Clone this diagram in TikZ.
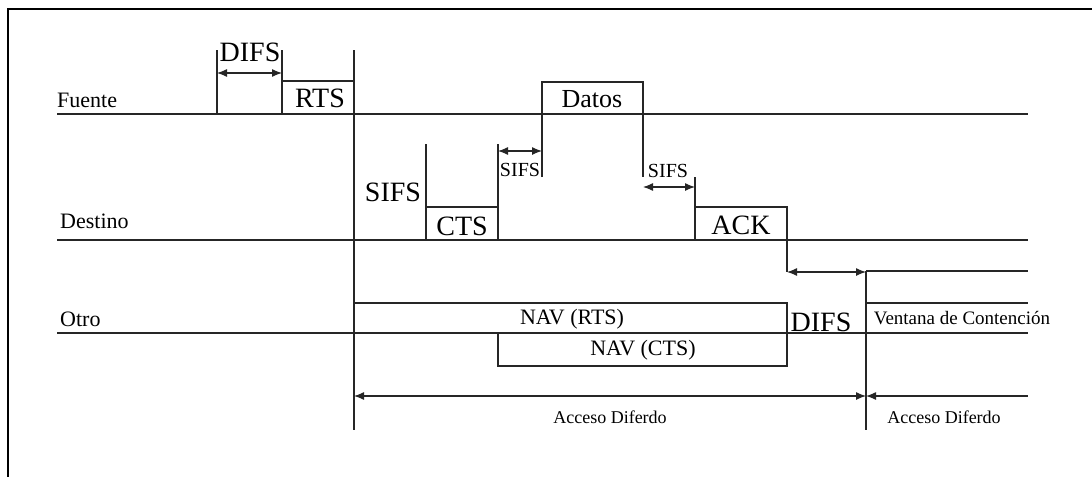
\documentclass[tikz,border=0pt]{standalone}
\usepackage{fontspec}
\setmainfont{Liberation Serif}
\usetikzlibrary{arrows.meta}

\tikzset{
    big/.style={font=\fontsize{28}{30}\selectfont, inner sep=0pt},
    mid/.style={font=\fontsize{22}{24}\selectfont, inner sep=0pt},
    small/.style={font=\fontsize{20}{22}\selectfont, inner sep=0pt},
    tiny/.style={font=\fontsize{18}{20}\selectfont, inner sep=0pt},
    signal/.style={line width=1.6pt, draw=black!85},
    span/.style={<->, line width=1.2pt, draw=black!85},
}

\begin{document}
\begin{tikzpicture}[x=1pt, y=-1pt, >={Latex[length=10pt,width=8pt]}]
    \useasboundingbox (0,0) rectangle (1092,477);

    % frame
    \draw[line width=2.5pt] (1092,9) -- (8,9) -- (8,477);

    % define the instants (x) and the levels (y)
    \foreach \n/\x in {xL/57, tA/217, tB/282, tC/354, tD/426, tE/498, tF/542,
                       tG/643, tH/695, tI/787, tJ/866, xR/1028}
        \coordinate (\n) at (\x,0);
    \foreach \n/\y in {yTop/50, yDifs/73, yRts/81, yDat/82, yFue/114, ySifsA/144,
                       ySifsB/151, yLow/177, ySifsC/187, yCts/207, yDes/240,
                       yVen/271, yDifsB/272, yNav/303, yOtr/333, yNavB/366,
                       yAcc/396, yBot/430}
        \coordinate (\n) at (0,\y);

    % the three lines
    \node[mid, anchor=base west] (fuente) at (57,107) {Fuente};
    \node[mid, anchor=base west] (destino) at (60,228) {Destino};
    \node[mid, anchor=base west] (otro) at (60,326) {Otro};
    \draw[signal] (xL |- yFue) -- (xR |- yFue);
    \draw[signal] (xL |- yDes) -- (xR |- yDes);
    \draw[signal] (xL |- yOtr) -- (xR |- yOtr);

    % source: DIFS, RTS and Datos
    \draw[signal] (tA |- yTop) -- (tA |- yFue);
    \draw[signal] (tB |- yTop) -- (tB |- yFue);
    \draw[span] (tA |- yDifs) -- (tB |- yDifs);
    \node[big] (difsA) at (250,52) {DIFS};
    \draw[signal] (tB |- yRts) -- (tC |- yRts);
    \node[big] (rts) at (320,98) {RTS};
    \draw[signal] (tC |- yTop) -- (tC |- yBot);
    \draw[signal] (tF |- yLow) -- (tF |- yDat) -- (tG |- yDat) -- (tG |- yLow);
    \node[font=\fontsize{26}{28}\selectfont, inner sep=0pt] (datos) at (592,99) {Datos};

    % destination: CTS and ACK
    \node[big] (sifsA) at (393,192) {SIFS};
    \draw[signal] (tD |- ySifsA) -- (tD |- yDes);
    \draw[signal] (tD |- yCts) -- (tE |- yCts);
    \draw[signal] (tE |- ySifsA) -- (tE |- yDes);
    \node[big] (cts) at (462,226) {CTS};
    \draw[span] (tE |- ySifsB) -- (tF |- ySifsB);
    \node[small] (sifsB) at (520,170) {SIFS};
    \draw[span] (tG |- ySifsC) -- (tH |- ySifsC);
    \node[small] (sifsC) at (668,171) {SIFS};
    \draw[signal] (tH |- yLow) -- (tH |- yDes);
    \draw[signal] (tH |- yCts) -- (tI |- yCts) -- (tI |- yDifsB);
    \node[big] (ack) at (741,225) {ACK};

    % other stations: NAV and contention window
    \draw[signal] (tC |- yNav) rectangle (tI |- yOtr);
    \node[mid] (navA) at (572,319) {NAV (RTS)};
    \draw[signal] (tE |- yOtr) rectangle (tI |- yNavB);
    \node[mid] (navB) at (643,350) {NAV (CTS)};
    \draw[span] (tI |- yDifsB) -- (tJ |- yDifsB);
    \node[big] (difsB) at (821,322) {DIFS};
    \draw[signal] (tJ |- yVen) -- (tJ |- yBot);
    \draw[signal] (tJ |- yVen) -- (xR |- yVen);
    \draw[signal] (tJ |- yNav) -- (xR |- yNav);
    \node[tiny, font=\fontsize{19}{21}\selectfont] (ventana) at (962,318) {Ventana de Contención};

    % deferred access
    \draw[span] (tC |- yAcc) -- (tJ |- yAcc);
    \node[tiny] (accA) at (610,417) {Acceso Diferdo};
    \draw[<-, line width=1.2pt, draw=black!85] (tJ |- yAcc) -- (xR |- yAcc);
    \node[tiny] (accB) at (944,417) {Acceso Diferdo};
\end{tikzpicture}
\end{document}
